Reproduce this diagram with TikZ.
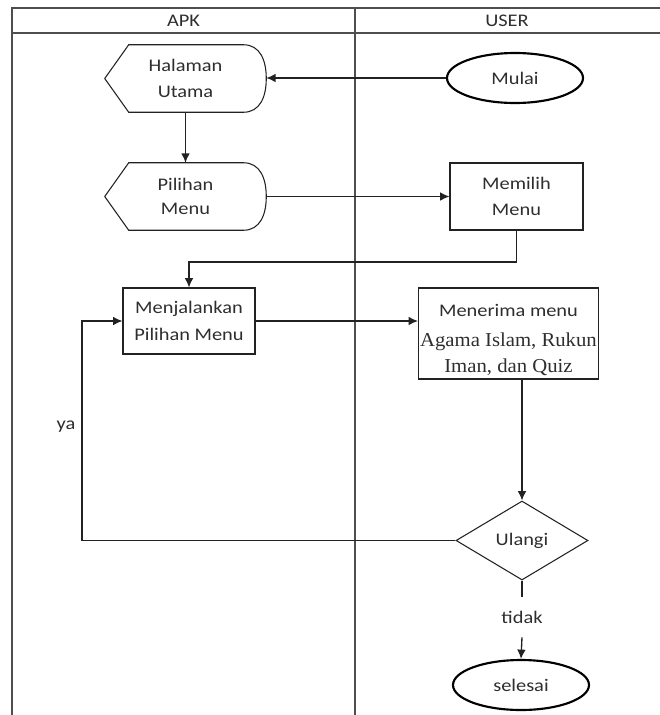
\documentclass[tikz,border=0pt]{standalone}
\usepackage{fontspec}
\setmainfont{Carlito}[FakeStretch=1.15]
\newfontfamily\tnr{Liberation Serif}[FakeStretch=1.05]
\usetikzlibrary{shapes.geometric,arrows.meta,calc}
\definecolor{txt}{HTML}{2E2E2E}
\definecolor{ln}{HTML}{222222}
\def\u{0.75pt}
\tikzset{
  base/.style={font=\fontsize{13.3}{20}\selectfont, text=txt, align=center, inner sep=0pt},
  dispbox/.style={base, minimum width=161*\u, minimum height=67*\u},
  procbox/.style={base, draw=ln, line width=0.8pt, minimum width=133*\u, minimum height=67*\u},
  termbox/.style={base, ellipse, draw=black, line width=1.6pt, minimum width=136*\u, minimum height=50*\u},
  decbox/.style={base, diamond, draw=ln, line width=0.8pt, minimum width=132*\u, minimum height=79*\u},
  conn/.style={draw=ln, line width=1pt},
  arr/.style={conn, -{Latex[length=7pt,width=6.5pt]}},
  frame/.style={draw=ln!80, line width=1.1pt},
  lbl/.style={base}
}
\begin{document}
\begin{tikzpicture}[x=0.75pt,y=-0.75pt]
\useasboundingbox (0,0) rectangle (660,715);
% swimlane frame
\draw[frame] (12,715) -- (12,8) -- (660,8);
\draw[frame] (12,33) -- (660,33);
\draw[frame] (355,8) -- (355,715);
\node[lbl] (hdrA) at (183.5,21) {APK};
\node[lbl] (hdrU) at (507,21) {USER};

% display shapes
\node[dispbox, font=\fontsize{13.3}{19.5}\selectfont] (hal) at (185.5,78.5) {Halaman\\Utama};
\node[dispbox, font=\fontsize{13.3}{17.5}\selectfont] (pil) at (185.5,196.5) {Pilihan\\Menu};
\foreach \n in {hal,pil}{
  \draw[draw=ln, line width=0.8pt]
    (\n.west) -- ($(\n.north west)+(24,0)$) -- ($(\n.north east)+(-23,0)$)
    .. controls ($(\n.north east)+(-6,0)$) and ($(\n.east)+(0,-18)$) .. (\n.east)
    .. controls ($(\n.east)+(0,18)$) and ($(\n.south east)+(-6,0)$) .. ($(\n.south east)+(-23,0)$)
    -- ($(\n.south west)+(24,0)$) -- cycle;
}

\node[termbox] (mulai) at (515,78) {Mulai};
\node[procbox] (memilih) at (516.5,196.5) {Memilih\\Menu};
\node[procbox, minimum width=132*\u, minimum height=66*\u] (menj) at (189,321) {Menjalankan\\Pilihan Menu};
\node[procbox, minimum width=180*\u, minimum height=91*\u] (mener) at (508.5,333.5) {};
\node[base, font=\fontsize{13.3}{19}\selectfont] (mener1) at (508.5,340)
  {Menerima menu\\[3.5pt]{\tnr\fontsize{14.8}{19}\selectfont Agama Islam, Rukun}\\{\tnr\fontsize{14.8}{19}\selectfont Iman, dan Quiz}};
\node[decbox] (ulangi) at (522,540.5) {Ulangi};
\node[base, minimum height=40*\u] (tidak) at (522,617) {tidak};
\node[termbox] (selesai) at (521,685) {selesai};
\node[lbl] (ya) at (66,427) {ya};

\coordinate (t1) at (516.5,262);
\coordinate (yaC) at (82,540.5);

\draw[arr] (mulai.west) -- (mulai.west -| hal.east);
\draw[arr] (hal.south) -- (pil.north);
\draw[arr] (pil.east) -- (memilih.west);
\draw[arr] (memilih.south) -- (t1) -| (menj.north);
\draw[arr] (menj.west -| menj.east) -- (mener.west |- menj.east);
\draw[arr] (mener.south -| ulangi.north) -- (ulangi.north);
\draw[arr] (ulangi.west) -- (yaC) |- (menj.west);
\draw[conn] (ulangi.south) -- (tidak.north);
\draw[arr] (tidak.south) -- (selesai.north);
\end{tikzpicture}
\end{document}
